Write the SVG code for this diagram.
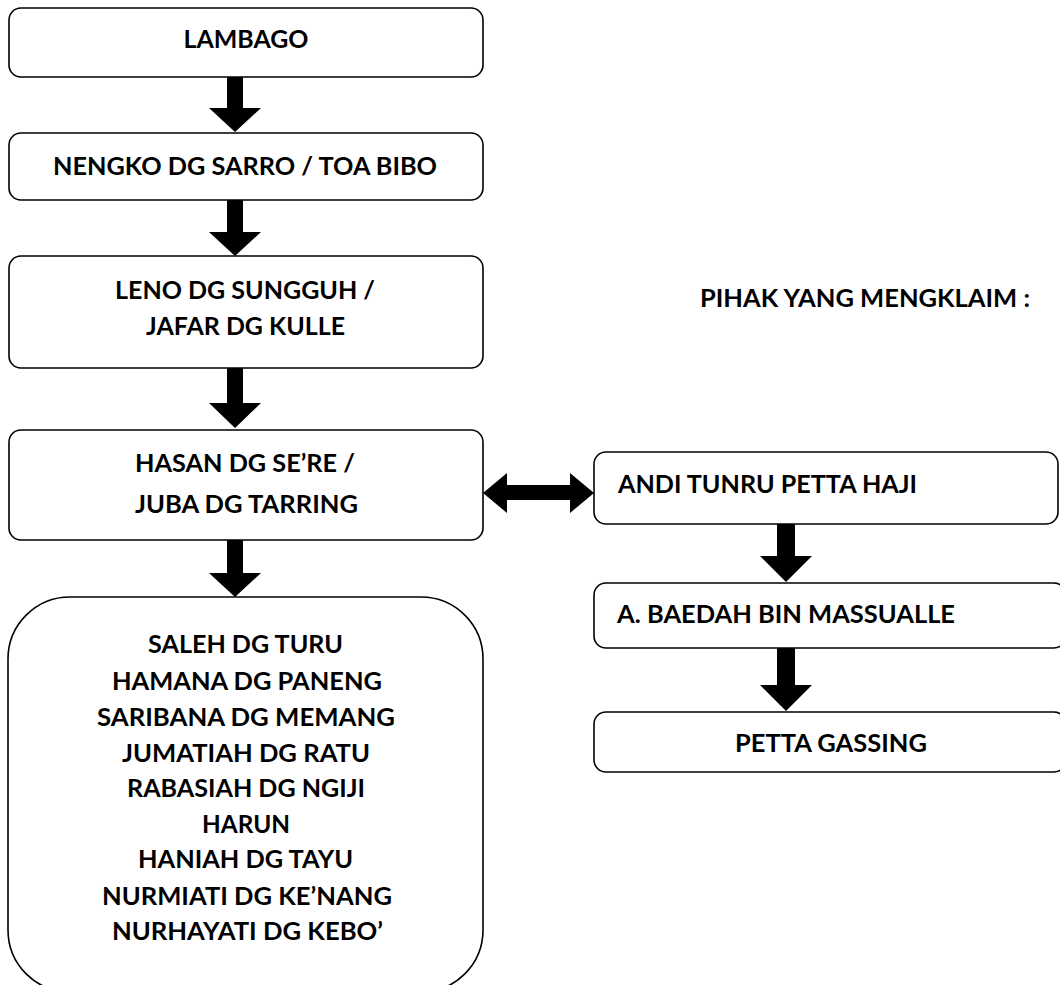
<svg xmlns="http://www.w3.org/2000/svg" width="1060" height="985" viewBox="0 0 1060 985">
<style>
.box{fill:#fff;stroke:#000;stroke-width:1.6}
.t{font-family:Lato,"Open Sans","Liberation Sans",sans-serif;font-weight:bold;font-size:25px;fill:#000}
.c{text-anchor:middle}
.arr{fill:#000;stroke:none}
</style>
<rect width="1060" height="985" fill="#fff"/>
<g id="lambago">
<rect class="box" x="9" y="8" width="474" height="69" rx="12"/>
<text class="t c" x="246" y="48" textLength="125" lengthAdjust="spacingAndGlyphs">LAMBAGO</text>
</g>
<g id="nengko">
<rect class="box" x="9" y="133" width="474" height="67" rx="12"/>
<text class="t c" x="245" y="175" textLength="384" lengthAdjust="spacingAndGlyphs">NENGKO DG SARRO / TOA BIBO</text>
</g>
<g id="leno">
<rect class="box" x="9" y="256" width="474" height="112" rx="12"/>
<text class="t c" x="245" y="299" textLength="260" lengthAdjust="spacingAndGlyphs">LENO DG SUNGGUH /</text>
<text class="t c" x="245.5" y="335" textLength="199" lengthAdjust="spacingAndGlyphs">JAFAR DG KULLE</text>
</g>
<g id="hasan">
<rect class="box" x="9" y="430" width="474" height="110" rx="12"/>
<text class="t c" x="245" y="472" textLength="220" lengthAdjust="spacingAndGlyphs">HASAN DG SE’RE /</text>
<text class="t c" x="246.5" y="513" textLength="223" lengthAdjust="spacingAndGlyphs">JUBA DG TARRING</text>
</g>
<g id="children">
<rect class="box" x="8" y="597" width="475" height="395" rx="62"/>
<text class="t c" x="245.5" y="653" textLength="195" lengthAdjust="spacingAndGlyphs">SALEH DG TURU</text>
<text class="t c" x="247" y="690" textLength="270" lengthAdjust="spacingAndGlyphs">HAMANA DG PANENG</text>
<text class="t c" x="246" y="726" textLength="298" lengthAdjust="spacingAndGlyphs">SARIBANA DG MEMANG</text>
<text class="t c" x="246" y="762" textLength="248" lengthAdjust="spacingAndGlyphs">JUMATIAH DG RATU</text>
<text class="t c" x="246" y="797" textLength="238" lengthAdjust="spacingAndGlyphs">RABASIAH DG NGIJI</text>
<text class="t c" x="246" y="833" textLength="88" lengthAdjust="spacingAndGlyphs">HARUN</text>
<text class="t c" x="245.5" y="868" textLength="215" lengthAdjust="spacingAndGlyphs">HANIAH DG TAYU</text>
<text class="t c" x="247" y="905" textLength="290" lengthAdjust="spacingAndGlyphs">NURMIATI DG KE’NANG</text>
<text class="t c" x="247.5" y="940" textLength="271" lengthAdjust="spacingAndGlyphs">NURHAYATI DG KEBO’</text>
</g>
<g id="claim-label">
<text class="t c" x="865" y="307" textLength="330" lengthAdjust="spacingAndGlyphs">PIHAK YANG MENGKLAIM :</text>
</g>
<g id="andi">
<rect class="box" x="594" y="452" width="464" height="72" rx="12"/>
<text class="t" x="618" y="493" textLength="299" lengthAdjust="spacingAndGlyphs">ANDI TUNRU PETTA HAJI</text>
</g>
<g id="baedah">
<rect class="box" x="594" y="583" width="472" height="65" rx="12"/>
<text class="t" x="617" y="623" textLength="338" lengthAdjust="spacingAndGlyphs">A. BAEDAH BIN MASSUALLE</text>
</g>
<g id="petta">
<rect class="box" x="594" y="712" width="472" height="60" rx="12"/>
<text class="t c" x="831" y="752" textLength="192" lengthAdjust="spacingAndGlyphs">PETTA GASSING</text>
</g>
<g id="connectors">
<polygon class="arr" points="227,77 243,77 243,108 261,108 235,132 209,108 227,108"/>
<polygon class="arr" points="227,200 243,200 243,232 261,232 235,256 209,232 227,232"/>
<polygon class="arr" points="227,368 243,368 243,403 261,403 235,428 209,403 227,403"/>
<polygon class="arr" points="227,540 243,540 243,573 261,573 235,597 209,573 227,573"/>
<polygon class="arr" points="483,493 507,473 507,485 570,485 570,473 594,493 570,513 570,500 507,500 507,513"/>
<polygon class="arr" points="777,524 795,524 795,556 812,556 786,582 760,556 777,556"/>
<polygon class="arr" points="777,648 795,648 795,685 812,685 786,711 760,685 777,685"/>
</g>
</svg>
